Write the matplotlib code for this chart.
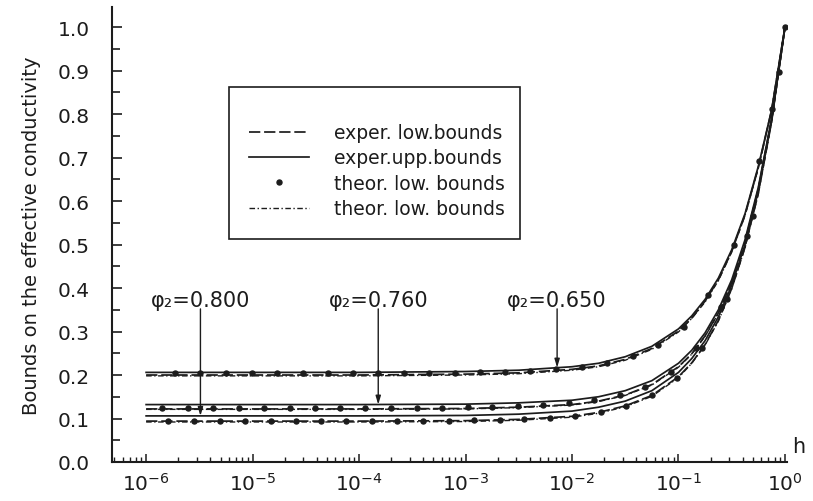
import numpy as np
import matplotlib
matplotlib.use("Agg")
import matplotlib.pyplot as plt
from matplotlib.ticker import LogLocator, MultipleLocator, FormatStrFormatter, NullFormatter

plt.rcParams["font.family"] = ["DejaVu Sans"]
plt.rcParams["mathtext.fontset"] = "dejavusans"

INK = "#1c1c1c"

# log10(h) grid of the drawn curves
LOGH = [-6, -5, -4, -3, -2.5, -2, -1.75, -1.5, -1.25, -1.0, -0.875,
        -0.75, -0.625, -0.5, -0.375, -0.25, -0.125, 0]

# phi2 = 0.650 (top group)
top_upp = [0.206, 0.206, 0.206, 0.208, 0.211, 0.219, 0.227, 0.242, 0.266, 0.306,
           0.336, 0.374, 0.423, 0.488, 0.571, 0.680, 0.810, 1.0]
top_low = [0.200, 0.200, 0.200, 0.202, 0.205, 0.213, 0.221, 0.236, 0.261, 0.301,
           0.331, 0.370, 0.419, 0.484, 0.568, 0.677, 0.809, 1.0]
top_dd = [0.198, 0.198, 0.198, 0.200, 0.203, 0.211, 0.219, 0.234, 0.259, 0.299,
          0.330, 0.368, 0.417, 0.483, 0.567, 0.676, 0.808, 1.0]

# phi2 = 0.760 (middle group)
mid_upp = [0.132, 0.132, 0.132, 0.133, 0.136, 0.142, 0.150, 0.164, 0.187, 0.227,
           0.257, 0.297, 0.350, 0.419, 0.511, 0.632, 0.790, 1.0]
mid_low = [0.122, 0.122, 0.122, 0.123, 0.126, 0.132, 0.140, 0.154, 0.178, 0.219,
           0.249, 0.290, 0.343, 0.413, 0.506, 0.628, 0.788, 1.0]
mid_dd = [0.121, 0.121, 0.121, 0.122, 0.125, 0.131, 0.139, 0.153, 0.177, 0.218,
          0.248, 0.289, 0.342, 0.412, 0.506, 0.628, 0.787, 1.0]

# phi2 = 0.800 (bottom group)
bot_upp = [0.106, 0.106, 0.106, 0.107, 0.110, 0.117, 0.126, 0.140, 0.164, 0.206,
           0.238, 0.279, 0.334, 0.406, 0.500, 0.623, 0.786, 1.0]
bot_low = [0.094, 0.094, 0.094, 0.095, 0.098, 0.105, 0.114, 0.129, 0.153, 0.196,
           0.228, 0.270, 0.326, 0.399, 0.494, 0.618, 0.783, 1.0]
bot_dd = [0.092, 0.092, 0.092, 0.093, 0.096, 0.103, 0.112, 0.127, 0.151, 0.194,
          0.227, 0.269, 0.324, 0.398, 0.493, 0.617, 0.783, 1.0]

# theoretical lower bounds (markers)
top_pts_logh = [0, -0.06, -0.12, -0.24, -0.48, -0.72, -0.95, -1.19, -1.43, -1.67,
                -1.91, -2.15, -2.39, -2.63, -2.86, -3.10, -3.34, -3.58, -3.82,
                -4.06, -4.29, -4.53, -4.77, -5.01, -5.25, -5.49, -5.73]
top_pts = [1.0, 0.897, 0.812, 0.692, 0.500, 0.383, 0.310, 0.268, 0.243, 0.228,
           0.219, 0.213, 0.210, 0.207, 0.206, 0.205, 0.205, 0.204, 0.204,
           0.204, 0.204, 0.204, 0.204, 0.204, 0.204, 0.204, 0.204]

mid_pts_logh = [-0.36, -0.60, -0.84, -1.07, -1.31, -1.55, -1.79, -2.03, -2.27,
                -2.51, -2.75, -2.98, -3.22, -3.46, -3.70, -3.94, -4.18, -4.41,
                -4.65, -4.89, -5.13, -5.37, -5.61, -5.85]
mid_pts = [0.520, 0.357, 0.262, 0.207, 0.173, 0.153, 0.142, 0.135, 0.131,
           0.128, 0.127, 0.126, 0.125, 0.125, 0.125, 0.125, 0.125, 0.125,
           0.125, 0.125, 0.125, 0.125, 0.125, 0.125]

bot_pts_logh = [-0.30, -0.54, -0.78, -1.01, -1.25, -1.49, -1.73, -1.97, -2.21,
                -2.45, -2.68, -2.92, -3.16, -3.40, -3.64, -3.88, -4.12, -4.36,
                -4.59, -4.83, -5.07, -5.31, -5.55, -5.79]
bot_pts = [0.566, 0.375, 0.261, 0.194, 0.153, 0.129, 0.115, 0.106, 0.101,
           0.098, 0.097, 0.096, 0.095, 0.094, 0.094, 0.094, 0.094, 0.094,
           0.094, 0.094, 0.094, 0.094, 0.094, 0.094]

# annotations: label, log10(h) of arrow, value the arrow points to
ann_labels = ["φ₂=0.800", "φ₂=0.760", "φ₂=0.650"]
ann_logh = [-5.49, -3.82, -2.14]
ann_tip = [0.106, 0.132, 0.217]

legend_labels = ["exper. low.bounds", "exper.upp.bounds",
                 "theor. low. bounds", "theor. low. bounds"]

x_ticks = [1e-6, 1e-5, 1e-4, 1e-3, 1e-2, 1e-1, 1e0]

fig = plt.figure(figsize=(8.13, 5.02), dpi=100)
ax = fig.add_axes([112 / 813, 39 / 502, 675 / 813, 455 / 502])

h = 10 ** np.array(LOGH, dtype=float)
dash = dict(color=INK, lw=1.25, dashes=(6.5, 2.2))
solid = dict(color=INK, lw=1.25)
dd = dict(color=INK, lw=1.0, dashes=(4, 1.8, 1, 1.8))
dot = dict(color=INK, ls="none", marker="o", ms=3.6)

for low, upp, ddv in [(top_low, top_upp, top_dd), (mid_low, mid_upp, mid_dd),
                      (bot_low, bot_upp, bot_dd)]:
    ax.plot(h, low, **dash)
    ax.plot(h, upp, **solid)
    ax.plot(h, ddv, **dd)

for lh, v in [(top_pts_logh, top_pts), (mid_pts_logh, mid_pts), (bot_pts_logh, bot_pts)]:
    ax.plot(10 ** np.array(lh), v, **dot)

for lab, lh, tip in zip(ann_labels, ann_logh, ann_tip):
    x = 10 ** lh
    ax.text(x, 0.372, lab, ha="center", va="center", fontsize=15, color=INK)
    ax.annotate("", xy=(x, tip), xytext=(x, 0.352),
                arrowprops=dict(arrowstyle="-|>,head_length=0.5,head_width=0.15",
                                lw=1.0, color=INK, shrinkA=0, shrinkB=0))

# legend handles
hl = [plt.Line2D([], [], **dash), plt.Line2D([], [], **solid),
      plt.Line2D([], [], **dot), plt.Line2D([], [], **dd)]
leg = ax.legend(hl, legend_labels, loc="upper left",
                bbox_to_anchor=(0.173, 0.486, 0.431, 0.338), mode="expand",
                fontsize=13.5, frameon=True, fancybox=False, framealpha=1,
                edgecolor=INK, handlelength=3.2, handletextpad=1.3,
                borderpad=1.1, labelspacing=0.34, borderaxespad=0,
                title=" ", title_fontsize=6)
leg.get_frame().set_linewidth(1.2)
for t in leg.get_texts():
    t.set_color(INK)

ax.set_xscale("log")
ax.set_xlim(4.78e-7, 1.045)
ax.set_ylim(0, 1.046)
ax.set_xticks(x_ticks)
ax.xaxis.set_minor_locator(LogLocator(base=10, subs=np.arange(2, 10), numticks=20))
ax.xaxis.set_minor_formatter(NullFormatter())
ax.yaxis.set_major_locator(MultipleLocator(0.1))
ax.yaxis.set_minor_locator(MultipleLocator(0.05))
ax.yaxis.set_major_formatter(FormatStrFormatter("%.1f"))

for s in ["top", "right"]:
    ax.spines[s].set_visible(False)
for s in ["left", "bottom"]:
    ax.spines[s].set_linewidth(1.5)
    ax.spines[s].set_color(INK)

ax.tick_params(axis="both", which="both", direction="in", color=INK, labelcolor=INK)
ax.tick_params(axis="y", which="major", length=7, width=1.2, pad=16, labelsize=14.5)
ax.tick_params(axis="y", which="minor", length=6, width=1.2)
ax.tick_params(axis="x", which="major", length=6, width=1.1, pad=7, labelsize=14.5)
ax.tick_params(axis="x", which="minor", length=3.5, width=1.0)

ax.set_ylabel("Bounds on the effective conductivity", fontsize=14, color=INK)
ax.yaxis.set_label_coords(-0.105, 0.5)
ax.text(1.018, 0.035, "h", transform=ax.transAxes, ha="center", va="center",
        fontsize=15, color=INK, clip_on=False)

fig.savefig("out.png", dpi=100)
